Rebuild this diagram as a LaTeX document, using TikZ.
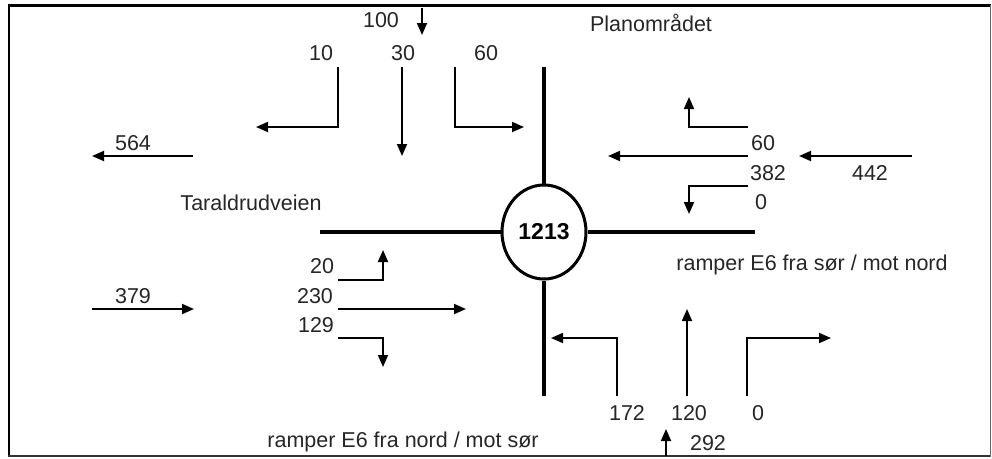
\documentclass[tikz,border=0pt]{standalone}
\usepackage{fontspec}
\setmainfont{Liberation Sans}
\usetikzlibrary{arrows.meta,shapes.geometric}
\tikzset{
  lbl/.style={font=\fontsize{21.5}{21.5}\selectfont, inner sep=0pt, text=black!85},
  flow/.style={line width=1.8pt, -{Triangle[length=12pt,width=10pt]}},
  road/.style={line width=3.5pt},
  junction/.style={ellipse, draw, line width=3pt, minimum width=84pt, minimum height=94pt, inner sep=0pt, font=\bfseries\fontsize{23}{23}\selectfont}
}
\begin{document}
\begin{tikzpicture}[x=1pt,y=-1pt]
\useasboundingbox (0,0) rectangle (992,458);
% frame
\draw[line width=3pt] (8,5) -- (991,5);
\draw[line width=2.5pt] (9,4) -- (9,457);
\draw[line width=2pt, black!80] (8,456) -- (991,456);
\draw[line width=1pt, black!60] (990,5) -- (990,457);

% junction and roads
\node[junction] (c) at (544,232) {1213};
\coordinate (vtop) at (544,67);
\coordinate (vbot) at (544,396);
\coordinate (hleft) at (320,232);
\coordinate (hright) at (755,232);
\draw[road] (c.north) -- (vtop);
\draw[road] (c.south) -- (vbot);
\draw[road] (c.west) -- (hleft);
\draw[road] (c.east) -- (hright);

% titles
\node[lbl] (plan) at (651,23) {Planområdet};
\node[lbl] (tarald) at (251,203) {Taraldrudveien};
\node[lbl] (rampN) at (403,442) {ramper E6 fra nord / mot sør};
\node[lbl] (rampS) at (812,265) {ramper E6 fra sør / mot nord};

% north approach
\node[lbl] (n100) at (381,20) {100};
\coordinate (n100a) at (422,8);
\coordinate (n100b) at (422,35);
\draw[flow] (n100a) -- (n100b);
\node[lbl] (n10) at (321,53) {10};
\node[lbl] (n30) at (403,53) {30};
\node[lbl] (n60) at (486,53) {60};
\coordinate (n10s) at (338,67);
\coordinate (n10e) at (256,127);
\draw[flow] (n10s) |- (n10e);
\coordinate (n30s) at (402,67);
\coordinate (n30e) at (402,156);
\draw[flow] (n30s) -- (n30e);
\coordinate (n60s) at (455,67);
\coordinate (n60e) at (524,127);
\draw[flow] (n60s) |- (n60e);

% west exit / entry
\node[lbl] (w564) at (133,143) {564};
\coordinate (w564s) at (193,156);
\coordinate (w564e) at (92,156);
\draw[flow] (w564s) -- (w564e);
\node[lbl] (w379) at (133,296) {379};
\coordinate (w379s) at (92,309);
\coordinate (w379e) at (194,309);
\draw[flow] (w379s) -- (w379e);

% west approach
\node[lbl] (w20) at (322,266) {20};
\node[lbl] (w230) at (315,296) {230};
\node[lbl] (w129) at (316,325) {129};
\coordinate (w20s) at (338,280);
\coordinate (w20e) at (383,250);
\draw[flow] (w20s) -| (w20e);
\coordinate (w230s) at (338,309);
\coordinate (w230e) at (466,309);
\draw[flow] (w230s) -- (w230e);
\coordinate (w129s) at (338,338);
\coordinate (w129e) at (383,367);
\draw[flow] (w129s) -| (w129e);

% east approach
\node[lbl] (e60) at (763,143) {60};
\node[lbl] (e382) at (768,173) {382};
\node[lbl] (e0) at (761,202) {0};
\node[lbl] (e442) at (870,173) {442};
\coordinate (e60s) at (748,127);
\coordinate (e60e) at (689,97);
\draw[flow] (e60s) -| (e60e);
\coordinate (e382s) at (748,156);
\coordinate (e382e) at (608,156);
\draw[flow] (e382s) -- (e382e);
\coordinate (e0s) at (748,186);
\coordinate (e0e) at (689,214);
\draw[flow] (e0s) -| (e0e);
\coordinate (e442s) at (912,156);
\coordinate (e442e) at (799,156);
\draw[flow] (e442s) -- (e442e);

% south approach
\node[lbl] (s172) at (627,413) {172};
\node[lbl] (s120) at (689,413) {120};
\node[lbl] (s0) at (758,413) {0};
\node[lbl] (s292) at (708,443) {292};
\coordinate (s172s) at (617,396);
\coordinate (s172e) at (551,338);
\draw[flow] (s172s) |- (s172e);
\coordinate (s120s) at (687,396);
\coordinate (s120e) at (687,309);
\draw[flow] (s120s) -- (s120e);
\coordinate (s0s) at (747,396);
\coordinate (s0e) at (831,338);
\draw[flow] (s0s) |- (s0e);
\coordinate (s292s) at (666,456);
\coordinate (s292e) at (666,429);
\draw[flow] (s292s) -- (s292e);
\end{tikzpicture}
\end{document}
